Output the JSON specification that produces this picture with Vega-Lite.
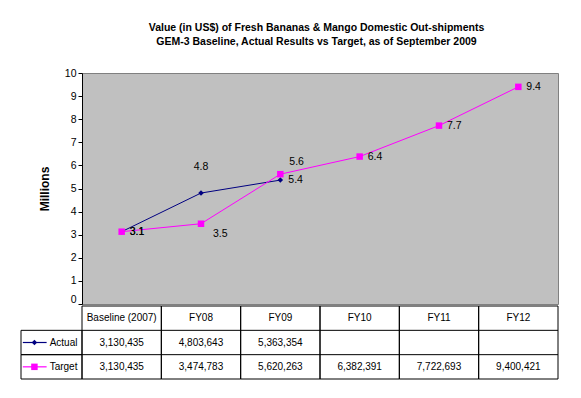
{
  "$schema": "https://vega.github.io/schema/vega-lite/v6.json",
  "background": "white",
  "padding": {"left": 20, "right": 24, "top": 23, "bottom": 0},
  "datasets": {
    "shipments": [
      {"cat": "Baseline (2007)", "series": "Actual", "value": 3130435},
      {"cat": "FY08", "series": "Actual", "value": 4803643},
      {"cat": "FY09", "series": "Actual", "value": 5363354},
      {"cat": "Baseline (2007)", "series": "Target", "value": 3130435},
      {"cat": "FY08", "series": "Target", "value": 3474783},
      {"cat": "FY09", "series": "Target", "value": 5620263},
      {"cat": "FY10", "series": "Target", "value": 6382391},
      {"cat": "FY11", "series": "Target", "value": 7722693},
      {"cat": "FY12", "series": "Target", "value": 9400421}
    ],
    "rows": [{"series": "Actual"}, {"series": "Target"}]
  },
  "title": {
    "text": ["Value (in US$) of Fresh Bananas & Mango Domestic Out-shipments", "GEM-3 Baseline, Actual Results vs Target, as of September 2009"],
    "font": "Liberation Sans",
    "fontSize": 10.5,
    "fontWeight": "bold",
    "lineHeight": 14,
    "color": "#000000",
    "anchor": "middle",
    "dx": 27,
    "offset": 20
  },
  "spacing": 0,
  "vconcat": [
    {
      "spacing": 0,
      "bounds": "flush",
      "hconcat": [
        {
          "width": 61,
          "height": 231,
          "data": {"values": []},
          "mark": {"type": "point"},
          "encoding": {}
        },
        {
          "width": 476,
          "height": 231,
          "view": {"fill": "#C0C0C0", "stroke": "#808080", "strokeWidth": 1},
          "data": {"name": "shipments"},
          "encoding": {
            "x": {
              "field": "cat",
              "type": "ordinal",
              "scale": {"type": "point", "padding": 0.5, "domain": ["Baseline (2007)", "FY08", "FY09", "FY10", "FY11", "FY12"]},
              "axis": null
            },
            "y": {
              "field": "value",
              "type": "quantitative",
              "scale": {"domain": [0, 10000000], "nice": false, "zero": true},
              "axis": {
                "values": [0, 1000000, 2000000, 3000000, 4000000, 5000000, 6000000, 7000000, 8000000, 9000000, 10000000],
                "labelExpr": "format(datum.value / 1000000, 'd')",
                "labelBaseline": {"condition": {"test": "datum.value == 0", "value": "bottom"}, "value": "middle"},
                "grid": false,
                "domainColor": "#000000",
                "tickColor": "#000000",
                "tickSize": 4,
                "labelPadding": 2,
                "labelFont": "Liberation Sans",
                "labelFontSize": 10.5,
                "labelColor": "#000000",
                "title": "Millions",
                "titleFont": "Liberation Sans",
                "titleFontSize": 12,
                "titleFontWeight": "bold",
                "titleColor": "#000000",
                "titlePadding": 13
              }
            },
            "color": {
              "field": "series",
              "type": "nominal",
              "scale": {"domain": ["Actual", "Target"], "range": ["#000080", "#FF00FF"]},
              "legend": null
            }
          },
          "layer": [
            {"mark": {"type": "line", "strokeWidth": 1}},
            {
              "mark": {"type": "point", "filled": true, "opacity": 1},
              "encoding": {
                "shape": {"field": "series", "type": "nominal", "scale": {"domain": ["Actual", "Target"], "range": ["diamond", "square"]}, "legend": null},
                "size": {"field": "series", "type": "nominal", "scale": {"domain": ["Actual", "Target"], "range": [30, 42]}, "legend": null}
              }
            },
            {
              "transform": [{"filter": "(datum.series == 'Actual' && datum.cat != 'FY08') || (datum.series == 'Target' && indexof(['Baseline (2007)', 'FY10', 'FY11', 'FY12'], datum.cat) >= 0)"}],
              "mark": {"type": "text", "align": "left", "baseline": "middle", "dx": 8, "font": "Liberation Sans", "fontSize": 10.5, "text": {"expr": "format(datum.value / 1000000, '.1f')"}},
              "encoding": {"color": {"value": "#000000"}}
            },
            {
              "transform": [{"filter": "datum.series == 'Actual' && datum.cat == 'FY08'"}],
              "mark": {"type": "text", "align": "center", "baseline": "middle", "dy": -26, "font": "Liberation Sans", "fontSize": 10.5, "text": {"expr": "format(datum.value / 1000000, '.1f')"}},
              "encoding": {"color": {"value": "#000000"}}
            },
            {
              "transform": [{"filter": "datum.series == 'Target' && datum.cat == 'FY08'"}],
              "mark": {"type": "text", "align": "left", "baseline": "middle", "dx": 12, "dy": 10, "font": "Liberation Sans", "fontSize": 10.5, "text": {"expr": "format(datum.value / 1000000, '.1f')"}},
              "encoding": {"color": {"value": "#000000"}}
            },
            {
              "transform": [{"filter": "datum.series == 'Target' && datum.cat == 'FY09'"}],
              "mark": {"type": "text", "align": "left", "baseline": "middle", "dx": 9, "dy": -12, "font": "Liberation Sans", "fontSize": 10.5, "text": {"expr": "format(datum.value / 1000000, '.1f')"}},
              "encoding": {"color": {"value": "#000000"}}
            }
          ]
        }
      ]
    },
    {
      "spacing": 0,
      "bounds": "flush",
      "hconcat": [
        {
          "width": 61,
          "height": 73,
          "data": {"name": "rows"},
          "encoding": {
            "y": {"field": "series", "type": "nominal", "scale": {"type": "band", "domain": ["hdr", "Actual", "Target"], "paddingInner": 0, "paddingOuter": 0}, "axis": null}
          },
          "layer": [
            {"mark": {"type": "rect", "fill": null, "stroke": "#000000", "strokeWidth": 1}},
            {
              "mark": {"type": "rule", "strokeWidth": 1.2},
              "encoding": {
                "x": {"datum": 0.03, "type": "quantitative", "scale": {"domain": [0, 1]}, "axis": null},
                "x2": {"datum": 0.42},
                "color": {"field": "series", "type": "nominal", "scale": {"domain": ["Actual", "Target"], "range": ["#000080", "#FF00FF"]}, "legend": null}
              }
            },
            {
              "mark": {"type": "point", "filled": true, "opacity": 1},
              "encoding": {
                "x": {"datum": 0.22, "type": "quantitative", "scale": {"domain": [0, 1]}, "axis": null},
                "color": {"field": "series", "type": "nominal", "scale": {"domain": ["Actual", "Target"], "range": ["#000080", "#FF00FF"]}, "legend": null},
                "shape": {"field": "series", "type": "nominal", "scale": {"domain": ["Actual", "Target"], "range": ["diamond", "square"]}, "legend": null},
                "size": {"field": "series", "type": "nominal", "scale": {"domain": ["Actual", "Target"], "range": [30, 42]}, "legend": null}
              }
            },
            {
              "mark": {"type": "text", "align": "left", "baseline": "middle", "font": "Liberation Sans", "fontSize": 10, "color": "#000000"},
              "encoding": {
                "x": {"datum": 0.47, "type": "quantitative", "scale": {"domain": [0, 1]}, "axis": null},
                "text": {"field": "series"}
              }
            }
          ]
        },
        {
          "width": 476,
          "height": 73,
          "data": {"name": "shipments"},
          "encoding": {
            "x": {
              "field": "cat",
              "type": "ordinal",
              "scale": {"type": "band", "paddingInner": 0, "paddingOuter": 0, "domain": ["Baseline (2007)", "FY08", "FY09", "FY10", "FY11", "FY12"]},
              "axis": null
            }
          },
          "layer": [
            {
              "transform": [{"filter": "datum.series == 'Target'"}],
              "mark": {"type": "rect", "fill": null, "stroke": "#000000", "strokeWidth": 1}
            },
            {
              "data": {"name": "rows"},
              "mark": {"type": "rule", "color": "#000000", "strokeWidth": 1},
              "encoding": {
                "x": null,
                "y": {"field": "series", "type": "nominal", "bandPosition": 0, "scale": {"type": "band", "domain": ["hdr", "Actual", "Target"], "paddingInner": 0, "paddingOuter": 0}, "axis": null}
              }
            },
            {
              "transform": [{"filter": "datum.series == 'Target'"}],
              "mark": {"type": "text", "align": "center", "baseline": "middle", "font": "Liberation Sans", "fontSize": 10, "color": "#000000"},
              "encoding": {
                "y": {"datum": "hdr", "type": "nominal", "scale": {"type": "band", "domain": ["hdr", "Actual", "Target"], "paddingInner": 0, "paddingOuter": 0}, "axis": null},
                "text": {"field": "cat"}
              }
            },
            {
              "mark": {"type": "text", "align": "center", "baseline": "middle", "font": "Liberation Sans", "fontSize": 10, "color": "#000000"},
              "encoding": {
                "y": {"field": "series", "type": "nominal", "scale": {"type": "band", "domain": ["hdr", "Actual", "Target"], "paddingInner": 0, "paddingOuter": 0}, "axis": null},
                "text": {"field": "value", "format": ","}
              }
            }
          ]
        }
      ]
    }
  ],
  "config": {
    "view": {"stroke": null}
  }
}
